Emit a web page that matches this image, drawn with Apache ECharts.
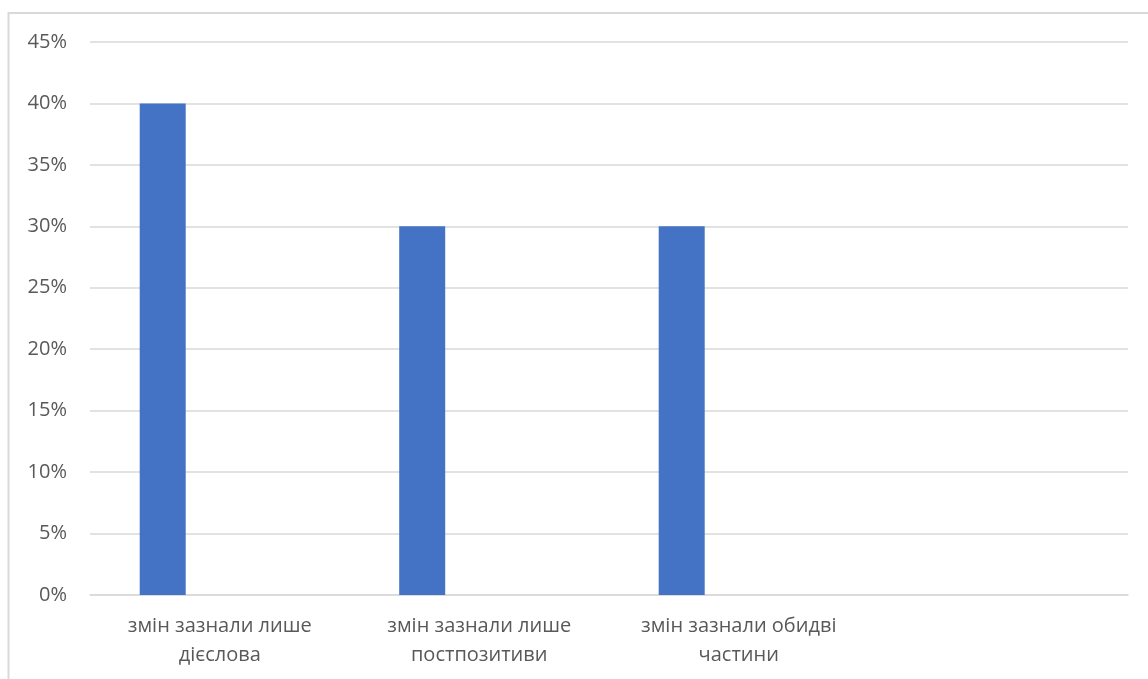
<!DOCTYPE html>
<html><head><meta charset="utf-8">
<script src="https://cdn.jsdelivr.net/npm/echarts@6/dist/echarts.min.js"></script>
<style>html,body{margin:0;padding:0;background:#fff}#c{width:1148px;height:679px}</style>
</head><body><div id="c"></div>
<script>
const categories = ['змін зазнали лише\nдієслова', 'змін зазнали лише\nпостпозитиви', 'змін зазнали обидві\nчастини', ''];
const values = [40, 30, 30, null];
const emptySeriesA = [null, null, null, null];
const emptySeriesB = [null, null, null, null];
const yTicks = [0, 5, 10, 15, 20, 25, 30, 35, 40, 45];

const chart = echarts.init(document.getElementById('c'), null, {renderer: 'canvas'});
const font = '"Open Sans", "Noto Sans", sans-serif';
const barStyle = {color: '#4472C4'};
chart.setOption({
  animation: false,
  graphic: [{type: 'rect', shape: {x: 8.5, y: 13, width: 1160, height: 700}, style: {fill: 'none', stroke: '#d9d9d9', lineWidth: 2}, silent: true}],
  grid: {left: 90, right: 20, top: 42, bottom: 84},
  xAxis: {
    type: 'category', data: categories,
    axisLine: {lineStyle: {color: '#d9d9d9', width: 1.5}},
    axisTick: {show: false},
    axisLabel: {color: '#595959', fontSize: 20, fontFamily: font, lineHeight: 29, margin: 17, interval: 0}
  },
  yAxis: {
    type: 'value', min: yTicks[0], max: yTicks[yTicks.length - 1], interval: 5,
    axisLine: {show: false}, axisTick: {show: false},
    splitLine: {lineStyle: {color: '#d9d9d9', width: 1.5}},
    axisLabel: {color: '#595959', fontSize: 20, fontFamily: font, margin: 23, formatter: v => v + '%'}
  },
  series: [
    {type: 'bar', data: values, barWidth: 46, barGap: '24%', itemStyle: barStyle},
    {type: 'bar', data: emptySeriesA, barWidth: 46, barGap: '24%'},
    {type: 'bar', data: emptySeriesB, barWidth: 46, barGap: '24%'}
  ]
});
</script></body></html>
